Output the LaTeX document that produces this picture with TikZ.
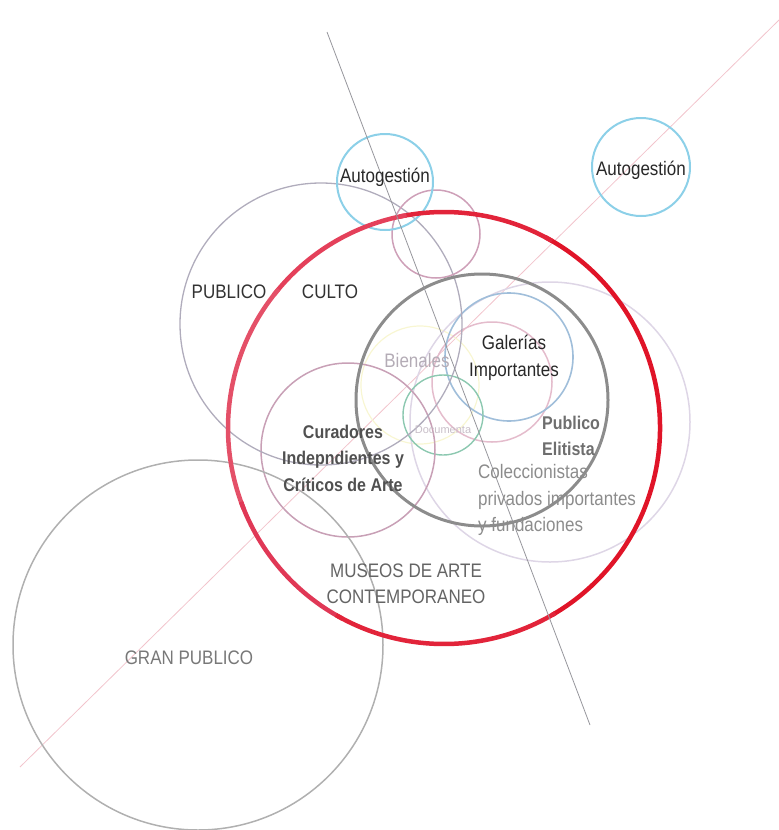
\documentclass[tikz,border=0pt]{standalone}
\usepackage{fontspec}
\setmainfont{Liberation Sans}
\begin{document}
\begin{tikzpicture}[x=1pt,y=-1pt,
  ring/.style={circle,draw,inner sep=0pt,minimum size=#1},
  lbl/.style={inner sep=0pt,font=\fontsize{17}{23}\selectfont,transform shape,yscale=1.15},
  thinline/.style={line width=0.8pt},
  redarc/.style={line width=4.5pt,draw=#1}]
\useasboundingbox (0,0) rectangle (779,830);
\definecolor{r1}{RGB}{224,20,40}
\definecolor{r2}{RGB}{226,36,58}
\definecolor{r3}{RGB}{228,64,90}
\definecolor{r4}{RGB}{228,80,104}
\definecolor{r5}{RGB}{224,56,86}
% guide lines
\coordinate (pa) at (20,767);
\coordinate (pb) at (779,20);
\coordinate (ga) at (327,32);
\coordinate (gb) at (590,725);
\draw[thinline,color={rgb,255:red,242;green,196;blue,204}] (pa) -- (pb);
% faint circles
\node[ring=118pt,draw={rgb,255:red,248;green,246;blue,210},line width=1.2pt] (bien) at (420,385) {};
\node[ring=280pt,draw={rgb,255:red,222;green,214;blue,230},line width=1.5pt] (coleccion) at (550,422) {};
\node[ring=120pt,draw={rgb,255:red,228;green,188;blue,204},line width=1.5pt] (pinkc) at (492,382) {};
\node[ring=128pt,draw={rgb,255:red,160;green,190;blue,218},line width=1.6pt] (galc) at (509,357) {};
\node[ring=80pt,draw={rgb,255:red,140;green,200;blue,176},line width=1.4pt] (docc) at (443,415) {};
\node[ring=174pt,draw={rgb,255:red,200;green,160;blue,182},line width=1.5pt] (curc) at (348,450) {};
\node[ring=282pt,draw={rgb,255:red,176;green,172;blue,188},line width=1.3pt] (cultoc) at (321,324) {};
\node[ring=370pt,draw={rgb,255:red,176;green,176;blue,176},line width=1.5pt] (granc) at (198,645) {};
\node[ring=88pt,draw={rgb,255:red,206;green,160;blue,184},line width=1.5pt] (smallp) at (436,234) {};
\node[ring=96pt,draw={rgb,255:red,140;green,208;blue,232},line width=2pt] (auto1c) at (385,182) {};
\node[ring=98pt,draw={rgb,255:red,140;green,208;blue,232},line width=2pt] (auto2c) at (641,167) {};
\node[ring=252pt,draw={rgb,255:red,140;green,140;blue,140},line width=3pt] (elitec) at (482,400) {};
% red museum circle, drawn in shaded segments
\node[ring=432pt,draw=none] (museoc) at (444,428) {};
\draw[redarc=r1] (museoc.center) ++(60:216) arc[start angle=60,end angle=-62,radius=216];
\draw[redarc=r2] (museoc.center) ++(-60:216) arc[start angle=-60,end angle=-102,radius=216];
\draw[redarc=r3] (museoc.center) ++(-100:216) arc[start angle=-100,end angle=-142,radius=216];
\draw[redarc=r4] (museoc.center) ++(-140:216) arc[start angle=-140,end angle=-202,radius=216];
\draw[redarc=r5] (museoc.center) ++(-200:216) arc[start angle=-200,end angle=-242,radius=216];
\draw[redarc=r2] (museoc.center) ++(-240:216) arc[start angle=-240,end angle=-301,radius=216];
\draw[thinline,color={rgb,255:red,150;green,150;blue,156}] (ga) -- (gb);
% labels
\node[lbl,text={rgb,255:red,40;green,40;blue,40}] (auto1) at (385,177) {Autogestión};
\node[lbl,text={rgb,255:red,40;green,40;blue,40}] (auto2) at (641,170) {Autogestión};
\node[lbl,text={rgb,255:red,50;green,50;blue,50}] (publico) at (229,292) {PUBLICO};
\node[lbl,text={rgb,255:red,50;green,50;blue,50}] (culto) at (330,292) {CULTO};
\node[lbl,text={rgb,255:red,180;green,172;blue,182}] (bienales) at (417,361) {Bienales};
\node[lbl,align=center,text={rgb,255:red,40;green,40;blue,40}] (galerias) at (514,358) {Galerías\\Importantes};
\node[inner sep=0pt,font=\fontsize{11}{13}\selectfont,text={rgb,255:red,200;green,190;blue,200}] (documenta) at (443,430) {Documenta};
\node[lbl,align=center,font=\bfseries\fontsize{16}{23}\selectfont,text={rgb,255:red,80;green,80;blue,80}] (curadores) at (343,458) {Curadores\\Indepndientes y\\Críticos de Arte};
\node[lbl,align=left,anchor=west,font=\bfseries\fontsize{16}{23}\selectfont,text={rgb,255:red,110;green,110;blue,110}] (elitista) at (542,436) {Publico\\Elitista};
\node[lbl,align=left,anchor=west,text={rgb,255:red,140;green,140;blue,140}] (coleccionistas) at (478,500) {Coleccionistas\\privados importantes\\y fundaciones};
\node[lbl,align=center,text={rgb,255:red,100;green,100;blue,100}] (museos) at (406,584) {MUSEOS DE ARTE\\CONTEMPORANEO};
\node[lbl,text={rgb,255:red,120;green,120;blue,120}] (gran) at (189,658) {GRAN PUBLICO};
\end{tikzpicture}
\end{document}
